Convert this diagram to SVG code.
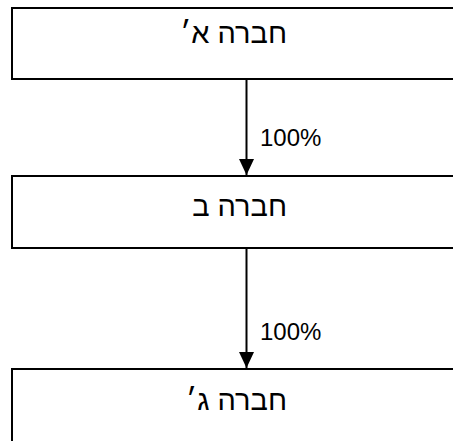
<svg xmlns="http://www.w3.org/2000/svg" width="453" height="441" viewBox="0 0 453 441">
<style>
.box{fill:#fff;stroke:#000;stroke-width:2}
.lbl{font-family:"Liberation Sans","DejaVu Sans",Arial,sans-serif;font-size:29px;fill:#000}
.pct{font-family:"Liberation Sans","DejaVu Sans",Arial,sans-serif;font-size:24px;fill:#000}
.conn{stroke:#000;stroke-width:2;fill:none}
</style>
<defs>
<marker id="ah" markerUnits="userSpaceOnUse" markerWidth="16" markerHeight="15" refX="16" refY="7.5" orient="auto" viewBox="0 0 16 15">
<path d="M0,0 L16,7.5 L0,15 Z" fill="#000"/>
</marker>
</defs>
<rect width="453" height="441" fill="#fff"/>
<g id="node-a">
<rect class="box" x="12" y="8" width="460" height="71"/>
<text class="lbl" x="287" y="43" direction="rtl" text-anchor="start">חברה א׳</text>
</g>
<g id="node-b">
<rect class="box" x="12" y="176" width="460" height="72"/>
<text class="lbl" x="287" y="216" direction="rtl" text-anchor="start">חברה ב</text>
</g>
<g id="node-c">
<rect class="box" x="12" y="369" width="460" height="100"/>
<text class="lbl" x="287" y="410" direction="rtl" text-anchor="start">חברה ג׳</text>
</g>
<g id="connectors">
<line class="conn" x1="246.5" y1="80" x2="246.5" y2="175" marker-end="url(#ah)"/>
<text class="pct" x="260" y="146">100%</text>
<line class="conn" x1="246.5" y1="249" x2="246.5" y2="368" marker-end="url(#ah)"/>
<text class="pct" x="260" y="340">100%</text>
</g>
</svg>
